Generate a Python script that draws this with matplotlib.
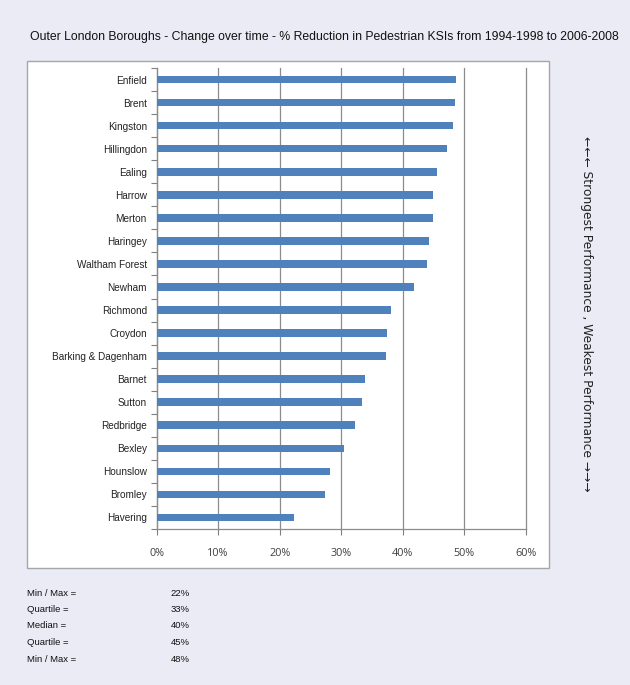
import matplotlib
matplotlib.use("Agg")
import matplotlib.pyplot as plt
from matplotlib.patches import Rectangle
import numpy as np

boroughs = ["Enfield", "Brent", "Kingston", "Hillingdon", "Ealing", "Harrow", "Merton",
            "Haringey", "Waltham Forest", "Newham", "Richmond", "Croydon",
            "Barking & Dagenham", "Barnet", "Sutton", "Redbridge", "Bexley",
            "Hounslow", "Bromley", "Havering"]
reduction = [48.6, 48.4, 48.1, 47.1, 45.6, 44.9, 44.9, 44.3, 43.9, 41.8,
             38.0, 37.4, 37.2, 33.8, 33.3, 32.3, 30.5, 28.1, 27.3, 22.4]
xticks = [0, 10, 20, 30, 40, 50, 60]
xtick_labels = ["0%", "10%", "20%", "30%", "40%", "50%", "60%"]
stat_labels = ["Min / Max =", "Quartile =", "Median =", "Quartile =", "Min / Max ="]
stat_values = ["22%", "33%", "40%", "45%", "48%"]

narrow = ['Liberation Sans Narrow', 'Liberation Sans', 'DejaVu Sans']
W, H = 630, 685
fig = plt.figure(figsize=(6.3, 6.85), dpi=100)
fig.patch.set_facecolor('#EAEBF5')

# chart box
fig.patches.append(Rectangle((27 / W, 1 - 568 / H), 522 / W, 507 / H,
                             transform=fig.transFigure, facecolor='white',
                             edgecolor='#A6A6A6', linewidth=1.0, zorder=-1))

ax = fig.add_axes([156.5 / W, 1 - 529 / H, 369.5 / W, 461 / H])
ax.set_zorder(1)
ax.set_facecolor('white')
y = np.arange(len(boroughs))
ax.barh(y, reduction, height=0.33, color='#4F81BD', zorder=3)
ax.set_ylim(len(boroughs) - 0.5, -0.5)
ax.set_xlim(0, 60)
ax.set_xticks(xticks)
ax.set_xticklabels(xtick_labels, fontsize=7.8, color='#404040', family=['Open Sans', 'DejaVu Sans'])
ax.set_yticks(y)
ax.set_yticklabels(boroughs, fontsize=7.2, family=narrow, color='#222222')
ax.set_yticks(np.arange(len(boroughs) + 1) - 0.5, minor=True)
ax.tick_params(axis='y', which='major', length=0, pad=7)
ax.tick_params(axis='y', which='minor', length=4, color='#808080', width=0.8)
ax.tick_params(axis='x', which='major', length=4, color='#808080', width=0.8, pad=10)
ax.grid(axis='x', color='#8C8C8C', linewidth=0.9, zorder=1)
for gl in ax.get_xgridlines():
    gl.set_clip_on(False)
for s in ['top', 'right']:
    ax.spines[s].set_visible(False)
for s in ['left', 'bottom']:
    ax.spines[s].set_color('#8C8C8C')
    ax.spines[s].set_linewidth(0.9)

fig.text(324 / W, 1 - 37 / H,
         "Outer London Boroughs - Change over time - % Reduction in Pedestrian KSIs from 1994-1998 to 2006-2008",
         ha='center', va='center', fontsize=8.8, family=narrow, color='#111111')

fig.text(586 / W, 1 - 314 / H,
         "\u2190\u2190\u2190 Strongest Performance , Weakest Performance \u2192\u2192\u2192",
         rotation=-90, ha='center', va='center', fontsize=8.8, family=['DejaVu Sans'],
         color='#222222')

for i, (lab, val) in enumerate(zip(stat_labels, stat_values)):
    yy = 1 - (593 + i * 16.5) / H
    fig.text(27 / W, yy, lab, ha='left', va='center', fontsize=6.8, family=narrow, color='#111111')
    fig.text(190 / W, yy, val, ha='right', va='center', fontsize=6.8, family=narrow, color='#111111')

fig.savefig('out.png', dpi=100, facecolor=fig.get_facecolor())
